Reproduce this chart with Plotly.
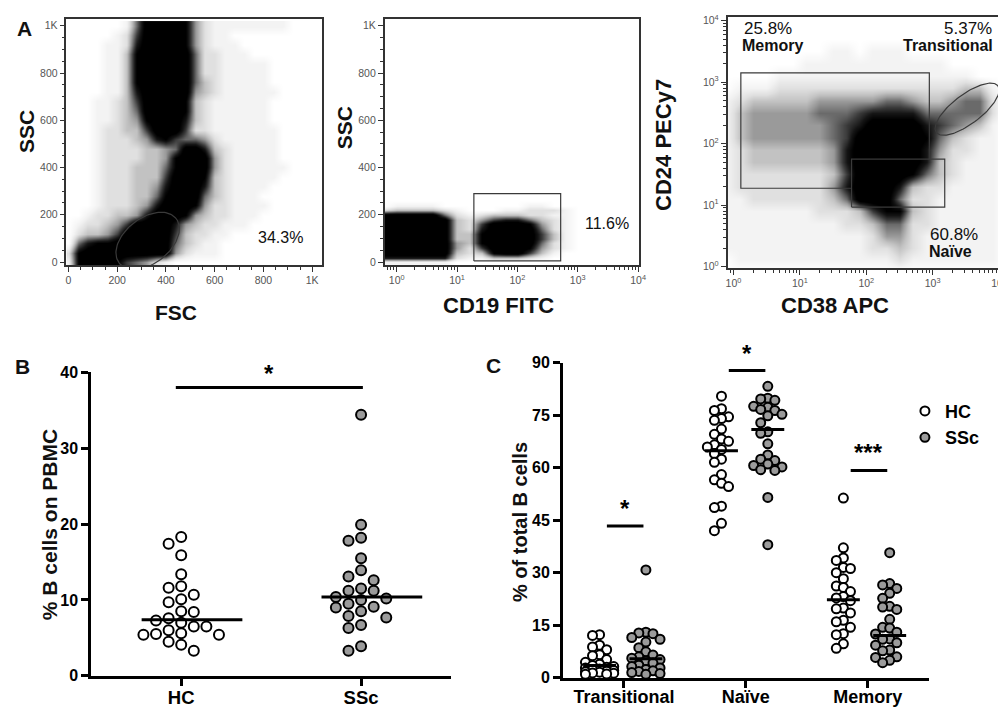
import numpy as np
import plotly.graph_objects as go

W, H = 1006, 711

# ---- panel B: % B cells on PBMC ----
B_GROUPS = ["HC", "SSc"]
B_HC = [18.3, 17.4, 15.9, 13.4, 11.6, 11.8, 10.1, 9.7, 10.7, 8.4, 8.5, 7.3,
        7.6, 6.5, 6.0, 6.5, 7.0, 5.5, 5.4, 5.6, 5.4, 4.5, 4.1, 3.3]
B_SSC = [34.4, 19.9, 17.8, 18.2, 15.5, 13.9, 12.6, 13.1, 11.5, 11.2, 11.2, 10.0,
         10.4, 9.5, 10.2, 9.1, 9.0, 7.9, 8.5, 7.7, 6.7, 6.3, 3.3, 3.9]
B_MEDIANS = [7.4, 10.4]
B_SIG_Y = 38.0

# ---- panel C: % of total B cells per subset ----
C_SUBSETS = ["Transitional", "Naïve", "Memory"]
C_HC = {
    "Transitional": [12.3, 12.1, 9.3, 8.8, 8.0, 6.6, 6.3, 5.2, 4.4, 3.9, 3.5, 3.2,
                     3.0, 2.8, 2.5, 2.3, 2.1, 1.9, 1.7, 1.6, 1.4, 1.3, 1.1, 1.0],
    "Naïve": [80.4, 76.8, 76.3, 74.5, 74.0, 73.5, 71.0, 69.5, 68.2, 67.5, 66.5, 65.9,
              65.2, 64.0, 62.4, 61.5, 58.0, 56.5, 55.5, 54.6, 49.0, 48.6, 44.1, 42.0],
    "Memory": [51.3, 37.1, 34.2, 33.5, 31.5, 31.2, 30.0, 28.3, 26.2, 25.8, 24.6, 23.2,
               22.8, 22.0, 19.9, 19.7, 18.5, 16.4, 16.0, 14.4, 12.6, 12.3, 9.7, 8.4],
}
C_SSC = {
    "Transitional": [30.8, 13.0, 12.8, 12.6, 11.5, 11.0, 10.2, 8.6, 7.4, 6.5, 6.0, 5.6,
                     5.2, 4.8, 4.2, 3.6, 3.2, 2.8, 2.4, 2.0, 1.8, 1.5, 1.2, 1.0],
    "Naïve": [83.2, 79.8, 79.6, 79.2, 77.5, 77.2, 76.6, 76.3, 75.2, 74.8, 72.8, 70.2,
              69.8, 66.8, 63.6, 62.4, 62.0, 61.0, 60.6, 60.2, 59.4, 59.2, 51.5, 38.0],
    "Memory": [35.7, 26.9, 26.5, 25.5, 24.1, 22.7, 20.4, 20.2, 19.5, 16.7, 14.4, 14.2,
               13.0, 12.5, 11.1, 11.0, 10.0, 9.3, 7.9, 7.7, 6.0, 5.8, 5.0, 4.3],
}
C_HC_MEDIANS = [3.5, 64.8, 22.3]
C_SSC_MEDIANS = [5.4, 70.9, 12.1]
C_SIG_Y = [43.3, 87.7, 59.2]
C_SIG_TEXT = ["*", "*", "***"]

# ---- panel A: flow cytometry event density (0 = none .. 9 = saturated), rows top to bottom ----
FSC_BINS = list(range(0, 1001, 40))
SSC_BINS = list(range(1000, -1, -40))
DENS_FSC_SSC = [
    "00000015999984211111111000",
    "00000126999984211000000000",
    "00001127999984211100000000",
    "00001138999995221110000000",
    "00001138999995221111100000",
    "00001138999995221111100000",
    "00001138999995321111100000",
    "00001137999994321111110000",
    "00011236999983211111100000",
    "00011235999983211111100000",
    "00011234899973211111100000",
    "00012233699962211111110000",
    "00012223478655421111110000",
    "00012222334599732111110000",
    "00012222334899942111110000",
    "00012223335899942111111000",
    "00012223336999832111110000",
    "00012223347999732111100000",
    "00012223358999532111000000",
    "00012223479998422111100000",
    "00122334799984322111000000",
    "01223469999743221110000000",
    "02334699999632211000000000",
    "05788999999532110000000000",
    "28999999999421110000000000",
    "18999865421000000000000000",
]

CD19_LOG_BINS = [round(-0.2 + 0.2 * i, 1) for i in range(22)]
CD19_SSC_BINS = list(range(300, -1, -20))
DENS_CD19_SSC = [
    "0000000000000000000000",
    "0000000000000000000000",
    "0000000000000000000000",
    "0111100000001100000000",
    "2333321000112221000000",
    "9999952123332211000000",
    "9999993246775321000000",
    "9999993269998421000000",
    "9999993279999521000000",
    "9999993389999631000000",
    "9999993389999631000000",
    "9999994389999521000000",
    "9999994269998421000000",
    "9999993238996310000000",
    "7777772113332100000000",
    "1111110000000000000000",
]

CD38_LOG_BINS = [round(-0.1 + 0.2 * i, 1) for i in range(22)]
CD24_LOG_BINS = [round(4.1 - 0.2 * i, 1) for i in range(22)]
DENS_CD38_CD24 = [
    "0000000000000000000000",
    "0000000000000000000000",
    "0000000000000000000000",
    "0000000011011100000000",
    "0000001111111111100000",
    "0000111111111111111000",
    "0111222222222222223310",
    "1233333444445543345520",
    "1344444555677775555520",
    "1344444456799997654310",
    "1344444456999998532110",
    "1233333347999997422110",
    "1233333347999997321110",
    "1222222236999985321110",
    "1222222247999732211110",
    "1122222235999522111110",
    "1111111222368832111110",
    "1111111112235522111110",
    "1111111111124421111110",
    "1111111111122321111110",
    "0111111111111211111110",
    "0000000000000000000000",
]

# gates (FSC/SSC units, CD19/SSC, CD38/CD24 values)
LYMPH_GATE = dict(cx=325, cy=90, a=150, b=95, angle=40)
CD19_GATE = dict(x0=19, x1=521, y0=5, y1=290)
MEMORY_GATE_X = [60, 1.29, 1.29, 891, 891]
MEMORY_GATE_Y = [18.8, 18.8, 1420, 1420, 56]
NAIVE_GATE = dict(x0=60, x1=1520, y0=9.3, y1=56)
TRANS_GATE = dict(cx=3.52, cy=2.56, a=0.6, b=0.23, angle=40)  # log10 units

DENS_SCALE = [[0, "#ffffff"], [0.111, "#f3f3f3"], [0.222, "#e0e0e0"], [0.333, "#c2c2c2"],
              [0.444, "#9a9a9a"], [0.556, "#6a6a6a"], [0.667, "#3a3a3a"], [0.778, "#151515"],
              [0.889, "#000000"], [1, "#000000"]]
GREY = "#9b9b9b"
FONT = "Arial, Liberation Sans, sans-serif"


def px(x):
    return x / W


def py(y):
    return 1 - y / H


def grid(rows):
    out = []
    for r in rows:
        assert len(r) == len(rows[0]), r
        out.append([int(c) for c in r])
    return out


def ellipse(cx, cy, a, b, angle, n=120):
    t = np.linspace(0, 2 * np.pi, n)
    th = np.radians(angle)
    ex = cx + a * np.cos(t) * np.cos(th) - b * np.sin(t) * np.sin(th)
    ey = cy + a * np.cos(t) * np.sin(th) + b * np.sin(t) * np.cos(th)
    return ex, ey


def swarm(values, spacing, min_dy, max_slot=4):
    """column-scatter offsets: each point takes the nearest free slot"""
    order = sorted(range(len(values)), key=lambda i: -values[i])
    placed = []
    offs = [0.0] * len(values)
    slots = [0]
    for k in range(1, max_slot + 1):
        slots += [-k, k]
    for i in order:
        y = values[i]
        best, best_gap = slots[0], -1
        for s in slots:
            gaps = [abs(y - yy) for ss, yy in placed if ss == s]
            gap = min(gaps) if gaps else 1e9
            if gap >= min_dy:
                best = s
                break
            if gap > best_gap:
                best, best_gap = s, gap
        placed.append((best, y))
        offs[i] = best * spacing
    return offs


fig = go.Figure()

# ---- panel A ----
gate_line = dict(color="#3a3a3a", width=1.2)
fig.add_trace(go.Heatmap(x=FSC_BINS, y=SSC_BINS, z=grid(DENS_FSC_SSC), colorscale=DENS_SCALE,
                         zmin=0, zmax=9, zsmooth="best", showscale=False, hoverinfo="skip",
                         xaxis="x", yaxis="y"))
gx, gy = ellipse(**LYMPH_GATE)
fig.add_trace(go.Scatter(x=gx, y=gy, mode="lines", line=gate_line, showlegend=False,
                         hoverinfo="skip", xaxis="x", yaxis="y"))

fig.add_trace(go.Heatmap(x=[10 ** v for v in CD19_LOG_BINS], y=CD19_SSC_BINS, z=grid(DENS_CD19_SSC),
                         colorscale=DENS_SCALE, zmin=0, zmax=9, zsmooth="best", showscale=False,
                         hoverinfo="skip", xaxis="x2", yaxis="y2"))
g = CD19_GATE
fig.add_trace(go.Scatter(x=[g["x0"], g["x1"], g["x1"], g["x0"], g["x0"]],
                         y=[g["y0"], g["y0"], g["y1"], g["y1"], g["y0"]],
                         mode="lines", line=gate_line, showlegend=False, hoverinfo="skip",
                         xaxis="x2", yaxis="y2"))

fig.add_trace(go.Heatmap(x=[10 ** v for v in CD38_LOG_BINS], y=[10 ** v for v in CD24_LOG_BINS],
                         z=grid(DENS_CD38_CD24), colorscale=DENS_SCALE, zmin=0, zmax=9,
                         zsmooth="best", showscale=False, hoverinfo="skip", xaxis="x3", yaxis="y3"))
fig.add_trace(go.Scatter(x=MEMORY_GATE_X, y=MEMORY_GATE_Y, mode="lines", line=gate_line,
                         showlegend=False, hoverinfo="skip", xaxis="x3", yaxis="y3"))
g = NAIVE_GATE
fig.add_trace(go.Scatter(x=[g["x0"], g["x1"], g["x1"], g["x0"], g["x0"]],
                         y=[g["y0"], g["y0"], g["y1"], g["y1"], g["y0"]],
                         mode="lines", line=gate_line, showlegend=False, hoverinfo="skip",
                         xaxis="x3", yaxis="y3"))
tx, ty = ellipse(**TRANS_GATE)
fig.add_trace(go.Scatter(x=10 ** tx, y=10 ** ty, mode="lines", line=gate_line, showlegend=False,
                         hoverinfo="skip", xaxis="x3", yaxis="y3"))

# ---- panel B ----
for i, (vals, fill) in enumerate([(B_HC, "white"), (B_SSC, GREY)]):
    offs = swarm(vals, 0.07, 1.4)
    fig.add_trace(go.Scatter(x=[i + 1 + o for o in offs], y=vals, mode="markers",
                             marker=dict(size=10, color=fill, line=dict(color="black", width=2)),
                             showlegend=False, cliponaxis=False, xaxis="x4", yaxis="y4"))
mx, my = [], []
for i, m in enumerate(B_MEDIANS):
    mx += [i + 1 - 0.22, i + 1 + 0.34, None]
    my += [m, m, None]
fig.add_trace(go.Scatter(x=mx, y=my, mode="lines", line=dict(color="black", width=3),
                         showlegend=False, hoverinfo="skip", xaxis="x4", yaxis="y4"))
fig.add_trace(go.Scatter(x=[0.97, 2.01], y=[B_SIG_Y, B_SIG_Y], mode="lines",
                         line=dict(color="black", width=3), showlegend=False, hoverinfo="skip",
                         cliponaxis=False, xaxis="x4", yaxis="y4"))

# ---- panel C ----
C_OFFSET = {"HC": -0.2, "SSc": 0.18}
for name, data, fill in [("HC", C_HC, "white"), ("SSc", C_SSC, GREY)]:
    xs, ys = [], []
    for j, sub in enumerate(C_SUBSETS):
        offs = swarm(data[sub], 0.058, 2.4, max_slot=2)
        xs += [j + 1 + C_OFFSET[name] + o for o in offs]
        ys += data[sub]
    fig.add_trace(go.Scatter(x=xs, y=ys, mode="markers", name=name,
                             marker=dict(size=9, color=fill, line=dict(color="black", width=2)),
                             cliponaxis=False, xaxis="x5", yaxis="y5"))
mx, my = [], []
for j in range(len(C_SUBSETS)):
    for name, meds in [("HC", C_HC_MEDIANS), ("SSc", C_SSC_MEDIANS)]:
        c = j + 1 + C_OFFSET[name]
        mx += [c - 0.135, c + 0.135, None]
        my += [meds[j], meds[j], None]
fig.add_trace(go.Scatter(x=mx, y=my, mode="lines", line=dict(color="black", width=3),
                         showlegend=False, hoverinfo="skip", cliponaxis=False, xaxis="x5", yaxis="y5"))
sx, sy = [], []
for j, yv in enumerate(C_SIG_Y):
    sx += [j + 1 - 0.14, j + 1 + 0.16, None]
    sy += [yv, yv, None]
fig.add_trace(go.Scatter(x=sx, y=sy, mode="lines", line=dict(color="black", width=3),
                         showlegend=False, hoverinfo="skip", cliponaxis=False, xaxis="x5", yaxis="y5"))

# ---- axes ----
LOG_TICKS = [1, 10, 100, 1000, 10000]
LOG_TEXT = ["10<sup>%d</sup>" % k for k in range(5)]
LOG_MINOR = [m * 10 ** d for d in range(-1, 5) for m in range(2, 10)]
flow_tickfont = dict(family=FONT, size=10.5, color="#555555")


def flow_axis(**kw):
    ax = dict(showline=True, mirror=True, linecolor="#333333", linewidth=1.5, ticks="outside",
              ticklen=5, tickwidth=1, tickcolor="#333333", showgrid=False, zeroline=False,
              tickfont=flow_tickfont, fixedrange=True)
    ax.update(kw)
    return ax


lin_minor = dict(ticks="outside", ticklen=3, dtick=50, tickcolor="#333333", showgrid=False)
log_minor = dict(ticks="outside", ticklen=3, tickmode="array", tickvals=LOG_MINOR,
                 tickcolor="#333333", showgrid=False)
lin_vals = [0, 200, 400, 600, 800, 1000]
lin_text = ["0", "200", "400", "600", "800", "1K"]
dom_a = [py(255), py(3)]

bold = dict(family=FONT, size=16, color="black", weight="bold")


def stat_axis(**kw):
    ax = dict(showline=True, linecolor="black", linewidth=3, ticks="outside", ticklen=7,
              tickwidth=3, tickcolor="black", showgrid=False, zeroline=False, tickfont=bold,
              fixedrange=True)
    ax.update(kw)
    return ax


fig.update_layout(
    width=W, height=H, margin=dict(l=0, r=0, t=0, b=0),
    paper_bgcolor="white", plot_bgcolor="white",
    xaxis=flow_axis(domain=[px(57), px(315)], range=[-8, 1041], tickvals=lin_vals,
                    ticktext=lin_text, minor=lin_minor, anchor="y"),
    yaxis=flow_axis(domain=dom_a, range=[-12, 1029], tickvals=lin_vals, ticktext=lin_text,
                    minor=lin_minor, anchor="x"),
    xaxis2=flow_axis(domain=[px(378), px(635)], type="log", range=[-0.2, 4.02], tickvals=LOG_TICKS,
                     ticktext=LOG_TEXT, minor=log_minor, anchor="y2"),
    yaxis2=flow_axis(domain=dom_a, range=[-12, 1029], tickvals=lin_vals, ticktext=lin_text,
                     minor=lin_minor, anchor="x2"),
    xaxis3=flow_axis(domain=[px(724), px(1002)], type="log", range=[-0.09, 4.06], tickvals=LOG_TICKS,
                     ticktext=LOG_TEXT, minor=log_minor, anchor="y3"),
    yaxis3=flow_axis(domain=[py(258), py(1)], type="log", range=[-0.02, 4.06], tickvals=LOG_TICKS,
                     ticktext=LOG_TEXT, minor=log_minor, anchor="x3"),
    xaxis4=stat_axis(domain=[px(82), px(445)], range=[0.5, 2.5], tickvals=[1, 2],
                     ticktext=B_GROUPS, tickfont=dict(bold, size=18.5), ticklabelstandoff=-4,
                     anchor="y4"),
    yaxis4=stat_axis(domain=[py(676), py(365)], range=[0, 40], tickvals=[0, 10, 20, 30, 40],
                     anchor="x4"),
    xaxis5=stat_axis(domain=[px(558), px(927)], range=[0.5, 3.5], tickvals=[1, 2, 3],
                     ticktext=C_SUBSETS, tickfont=dict(bold, size=18), ticklabelstandoff=-6,
                     anchor="y5"),
    yaxis5=stat_axis(domain=[py(678), py(355)], range=[0, 90], tickvals=[0, 15, 30, 45, 60, 75, 90],
                     anchor="x5"),
    legend=dict(x=px(903), y=py(386), xanchor="left", yanchor="top", bgcolor="rgba(0,0,0,0)",
                font=dict(family=FONT, size=18, color="black", weight="bold"), itemwidth=30,
                tracegroupgap=2),
)

# ---- text ----
TEXTS = [
    ("A", 15, 13, 21, True, 0), ("B", 13, 359, 21, True, 0), ("C", 488, 358, 21, True, 0),
    ("SSC", 16, 118, 21, True, -90), ("FSC", 167, 304, 21, True, 0),
    ("SSC", 337, 114, 21, True, -90), ("CD19 FITC", 493, 297, 22, True, 0),
    ("CD24 PECy7", 660, 132, 22, True, -90), ("CD38 APC", 832, 297, 22, True, 0),
    ("34.3%", 273, 227, 16, False, 0), ("11.6%", 602, 213, 16, False, 0),
    ("25.8%", 765, 13, 17, False, 0), ("Memory", 769, 30, 16, True, 0),
    ("5.37%", 967, 13, 17, False, 0), ("Transitional", 946, 30, 16, True, 0),
    ("60.8%", 953, 224, 17, False, 0), ("Naïve", 949, 241, 16, True, 0),
    ("% B cells on PBMC", 40, 521, 21, True, -90), ("% of total B cells", 514, 518, 20, True, -90),
]
for text, x, y, size, is_bold, angle in TEXTS:
    fig.add_annotation(text=text, x=px(x), y=py(y), xref="paper", yref="paper", showarrow=False,
                       xanchor="center", yanchor="middle", textangle=angle,
                       font=dict(family=FONT, size=size, color="#111111",
                                 weight="bold" if is_bold else "normal"))

star_font = dict(family=FONT, size=24, color="black", weight="bold")
fig.add_annotation(text="*", x=1.49, y=B_SIG_Y, xref="x4", yref="y4", showarrow=False,
                   yanchor="bottom", yshift=-2, font=star_font)
for j, (yv, txt) in enumerate(zip(C_SIG_Y, C_SIG_TEXT)):
    fig.add_annotation(text=txt, x=j + 1.01, y=yv, xref="x5", yref="y5", showarrow=False,
                       yanchor="bottom", yshift=2, font=star_font)

fig.write_html("out.html")
